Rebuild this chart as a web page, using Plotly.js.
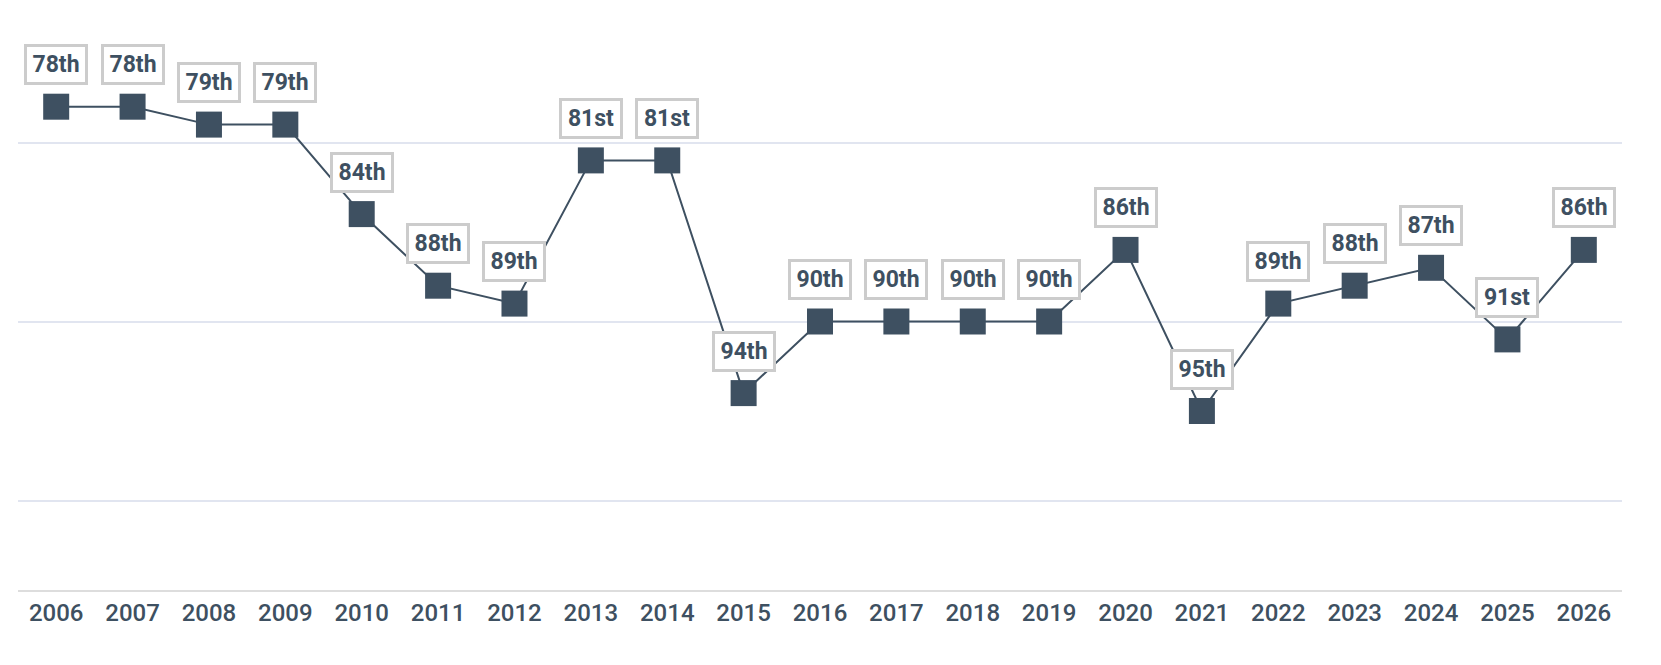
<!DOCTYPE html>
<html>
<head>
<meta charset="utf-8">
<script src="https://cdn.plot.ly/plotly-3.0.1.min.js"></script>
<style>
html,body{margin:0;padding:0;background:#fff;}
#chart{width:1661px;height:665px;}
</style>
</head>
<body>
<div id="chart"></div>
<script>
const years = ["2006","2007","2008","2009","2010","2011","2012","2013","2014","2015","2016","2017","2018","2019","2020","2021","2022","2023","2024","2025","2026"];
const ranks = [78,78,79,79,84,88,89,81,81,94,90,90,90,90,86,95,89,88,87,91,86];
const rankLabels = ["78th","78th","79th","79th","84th","88th","89th","81st","81st","94th","90th","90th","90th","90th","86th","95th","89th","88th","87th","91st","86th"];

const ink = "#3e5061";

const trace = {
  x: years,
  y: ranks,
  type: "scatter",
  mode: "lines+markers",
  line: {color: ink, width: 2},
  marker: {symbol: "square", size: 26, color: ink},
  cliponaxis: false,
  hoverinfo: "x+y"
};

const annotations = years.map((yr, i) => ({
  x: i,
  y: ranks[i],
  xref: "x",
  yref: "y",
  text: rankLabels[i],
  showarrow: false,
  yshift: 42,
  yanchor: "middle",
  xanchor: "center",
  font: {family: "Roboto, sans-serif", size: 23, color: ink, weight: 700},
  bgcolor: "#ffffff",
  bordercolor: "#cccccc",
  borderwidth: 3,
  borderpad: 3,
  width: 52,
  height: 29,
  align: "center",
  valign: "middle"
}));

const layout = {
  width: 1661,
  height: 665,
  margin: {l: 18, r: 39, t: 53, b: 75},
  paper_bgcolor: "#ffffff",
  plot_bgcolor: "#ffffff",
  showlegend: false,
  font: {family: "Roboto, sans-serif", color: ink},
  xaxis: {
    type: "category",
    range: [-0.5, 20.5],
    showgrid: false,
    zeroline: false,
    showline: true,
    linecolor: "#dddddd",
    linewidth: 2,
    ticks: "",
    tickfont: {family: "Roboto, sans-serif", size: 24, color: ink, weight: 500},
    fixedrange: true
  },
  yaxis: {
    range: [105, 75],
    tick0: 80,
    dtick: 10,
    showgrid: true,
    gridcolor: "#e1e5f0",
    gridwidth: 2,
    zeroline: false,
    showline: false,
    showticklabels: false,
    ticks: "",
    fixedrange: true
  },
  annotations: annotations
};

Plotly.newPlot("chart", [trace], layout, {displayModeBar: false});
</script>
</body>
</html>
